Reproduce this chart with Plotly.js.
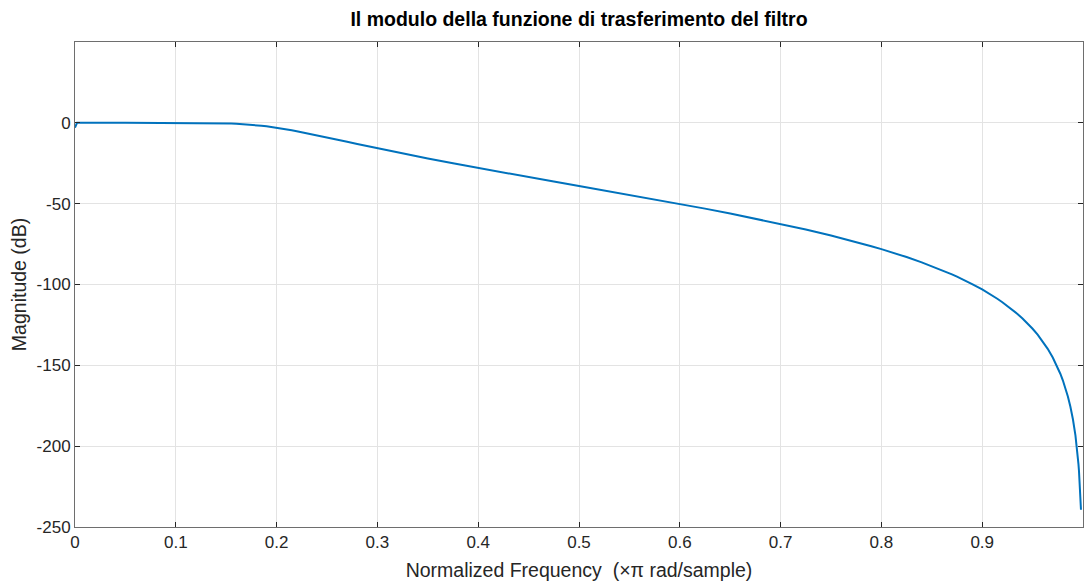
<!DOCTYPE html>
<html>
<head>
<meta charset="utf-8">
<script src="https://cdn.plot.ly/plotly-3.0.1.min.js"></script>
<style>
  html, body { margin: 0; padding: 0; background: #ffffff; }
  #chart { width: 1084px; height: 583px; }
</style>
</head>
<body>
<div id="chart"></div>
<script>
// Normalized frequency (x pi rad/sample) and magnitude response in dB
const freq = [0, 0.002, 0.05, 0.1, 0.125, 0.13, 0.14, 0.15, 0.155, 0.16, 0.165, 0.17, 0.175, 0.18, 0.185,
  0.19, 0.195, 0.2, 0.205, 0.21, 0.215, 0.22, 0.23, 0.24, 0.25, 0.26, 0.27, 0.28, 0.29, 0.3,
  0.325, 0.35, 0.375, 0.4, 0.425, 0.45, 0.475, 0.5, 0.525, 0.55, 0.575, 0.6, 0.625, 0.65, 0.675,
  0.7, 0.725, 0.75, 0.76, 0.775, 0.79, 0.8, 0.81, 0.825, 0.84, 0.85, 0.86, 0.87, 0.875, 0.88,
  0.89, 0.9, 0.905, 0.91, 0.915, 0.92, 0.925, 0.93, 0.935, 0.94, 0.945, 0.95, 0.955, 0.96,
  0.965, 0.97, 0.975, 0.9775, 0.98, 0.982, 0.985, 0.9875, 0.989, 0.99, 0.9925, 0.9935, 0.995,
  0.9955, 0.996, 0.9965, 0.997, 0.9975, 0.998];
const magDb = [-3.0, 0, 0, -0.014, -0.085, -0.12, -0.21, -0.365, -0.48, -0.61, -0.78, -0.98, -1.21, -1.49, -1.81,
  -2.16, -2.57, -3.01, -3.50, -4.01, -4.57, -5.15, -6.38, -7.68, -9.02, -10.37, -11.73, -13.09, -14.43, -15.75,
  -18.98, -22.07, -25.06, -27.97, -30.80, -33.58, -36.33, -39.06, -41.79, -44.54, -47.34, -50.16, -53.07, -56.07, -59.22,
  -62.49, -65.96, -69.68, -71.25, -73.70, -76.30, -78.12, -80.01, -83.03, -86.30, -88.63, -91.11, -93.77, -95.17, -96.62,
  -99.71, -103.08, -104.89, -106.80, -108.80, -110.94, -113.20, -115.62, -118.22, -121.01, -124.05, -127.38, -131.05, -135.16,
  -139.81, -145.18, -151.51, -155.18, -159.27, -162.94, -169.27, -175.61, -180.05, -183.37, -193.36, -198.33, -207.45,
  -211.11, -215.20, -219.84, -225.2, -231.53, -239.3];

const xTicks = [0, 0.1, 0.2, 0.3, 0.4, 0.5, 0.6, 0.7, 0.8, 0.9, 1];
const yTicks = [-250, -200, -150, -100, -50, 0];

const FONT = 'Liberation Sans, Arial, Helvetica, sans-serif';
const tickFont = { family: FONT, size: 17, color: '#262626' };
const labelFont = { family: FONT, size: 19.5, color: '#262626' };

const trace = {
  x: freq,
  y: magDb,
  type: 'scatter',
  mode: 'lines',
  line: { color: '#0072BD', width: 2 },
  hoverinfo: 'x+y'
};

const layout = {
  width: 1084,
  height: 583,
  margin: { l: 75, r: 1, t: 42, b: 56 },
  paper_bgcolor: '#ffffff',
  plot_bgcolor: '#ffffff',
  showlegend: false,
  title: {
    text: '<b>Il modulo della funzione di trasferimento del filtro</b>',
    font: { family: FONT, size: 19.5, color: '#000000' },
    x: 0.5,
    xref: 'paper',
    xanchor: 'center',
    y: 1,
    yref: 'paper',
    yanchor: 'bottom',
    pad: { b: 16 }
  },
  xaxis: {
    range: [0, 1],
    tickvals: xTicks,
    ticktext: xTicks.map(v => String(v)),
    ticks: 'inside',
    ticklen: 5,
    tickcolor: '#262626',
    showgrid: true,
    gridcolor: '#e3e3e3',
    gridwidth: 1,
    zeroline: false,
    showline: true,
    linecolor: '#6e6e6e',
    linewidth: 1,
    mirror: 'ticks',
    tickfont: tickFont,
    title: {
      text: 'Normalized Frequency  (\u00d7\u03c0 rad/sample)',
      font: labelFont,
      standoff: 11
    }
  },
  yaxis: {
    range: [-250, 50],
    tickvals: yTicks,
    ticktext: yTicks.map(v => String(v)),
    ticks: 'inside',
    ticklen: 5,
    tickcolor: '#262626',
    showgrid: true,
    gridcolor: '#e3e3e3',
    gridwidth: 1,
    zeroline: false,
    showline: true,
    linecolor: '#6e6e6e',
    linewidth: 1,
    mirror: 'ticks',
    tickfont: tickFont,
    title: {
      text: 'Magnitude (dB)',
      font: labelFont,
      standoff: 4
    }
  }
};

Plotly.newPlot('chart', [trace], layout, { displayModeBar: false, staticPlot: true });
</script>
</body>
</html>
